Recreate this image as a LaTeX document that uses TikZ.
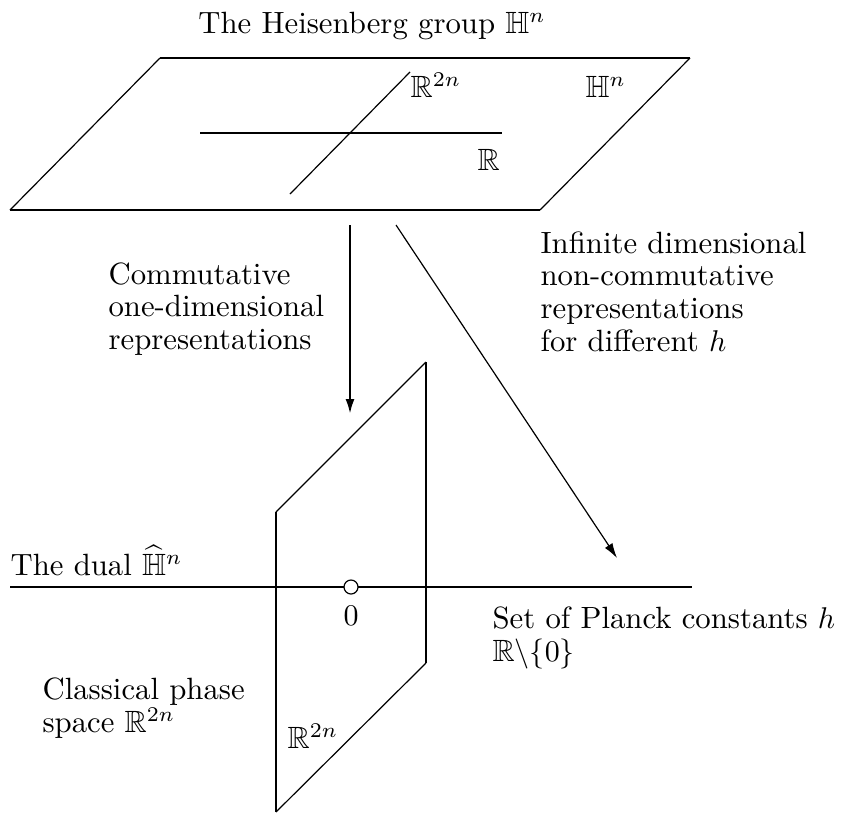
\documentclass[tikz,border=0pt]{standalone}
\usepackage{amssymb}
\usetikzlibrary{arrows.meta}
\begin{document}
\begin{tikzpicture}[x=0.3333pt,y=-0.3333pt,
  thinline/.style={line width=0.4pt},
  thickline/.style={line width=0.8pt},
  lbl/.style={inner sep=0pt, font=\fontsize{10.25}{10.9}\selectfont, align=left},
  arr/.style={-{Latex[length=5pt,width=3pt]}}]
\useasboundingbox (0,0) rectangle (845,813);
% top parallelogram
\coordinate (tl) at (160,58);
\coordinate (tr) at (690,58);
\coordinate (br) at (540,210);
\coordinate (bl) at (10,210);
\draw[thickline] (tl) -- (tr);
\draw[thickline] (bl) -- (br);
\draw[thinline] (bl) -- (tl);
\draw[thinline] (br) -- (tr);
\coordinate (ra) at (200,133);
\coordinate (rb) at (502,133);
\draw[thickline] (ra) -- (rb);
\coordinate (da) at (290,194);
\coordinate (db) at (410,72);
\draw[thinline] (da) -- (db);
\node[lbl, anchor=base] (title) at (372,33) {The Heisenberg group $\mathbb{H}^n$};
\node[lbl, anchor=base west] (r2n) at (410,97) {$\mathbb{R}^{2n}$};
\node[lbl, anchor=base west] (hn) at (585,97) {$\mathbb{H}^n$};
\node[lbl, anchor=base west] (rr) at (477,170) {$\mathbb{R}$};
% arrows
\coordinate (va) at (350,225);
\coordinate (vb) at (350,414);
\draw[thickline, arr] (va) -- (vb);
\coordinate (wa) at (396,225);
\coordinate (wb) at (617,558);
\draw[thinline, arr] (wa) -- (wb);
\node[lbl, anchor=north west] (comm) at (108,262) {Commutative\\one-dimensional\\representations};
\node[lbl, anchor=north west] (inf) at (540,231) {Infinite dimensional\\non-commutative\\representations\\for different $h$};
% lower parallelogram
\coordinate (p1) at (276,512);
\coordinate (p2) at (426,362);
\coordinate (p3) at (426,663);
\coordinate (p4) at (276,812);
\draw[thickline] (p1) -- (p4);
\draw[thickline] (p2) -- (p3);
\draw[thinline] (p1) -- (p2);
\draw[thinline] (p4) -- (p3);
% dual line
\coordinate (la) at (10,587);
\coordinate (lb) at (692,587);
\draw[thickline] (la) -- (lb);
\node[draw, thinline, circle, fill=white, minimum size=14*0.3333pt, inner sep=0pt] (zero) at (351,587) {};
\node[lbl, anchor=base] (zlab) at (351,625) {$0$};
\node[lbl, anchor=base west] (dual) at (10,575) {The dual $\widehat{\mathbb{H}}^n$};
\node[lbl, anchor=north west] (planck) at (492,606) {Set of Planck constants $h$\\$\mathbb{R}\backslash\{0\}$};
\node[lbl, anchor=north west] (classical) at (42,677) {Classical phase\\space $\mathbb{R}^{2n}$};
\node[lbl, anchor=base west] (r2nb) at (287,748) {$\mathbb{R}^{2n}$};
\end{tikzpicture}
\end{document}
